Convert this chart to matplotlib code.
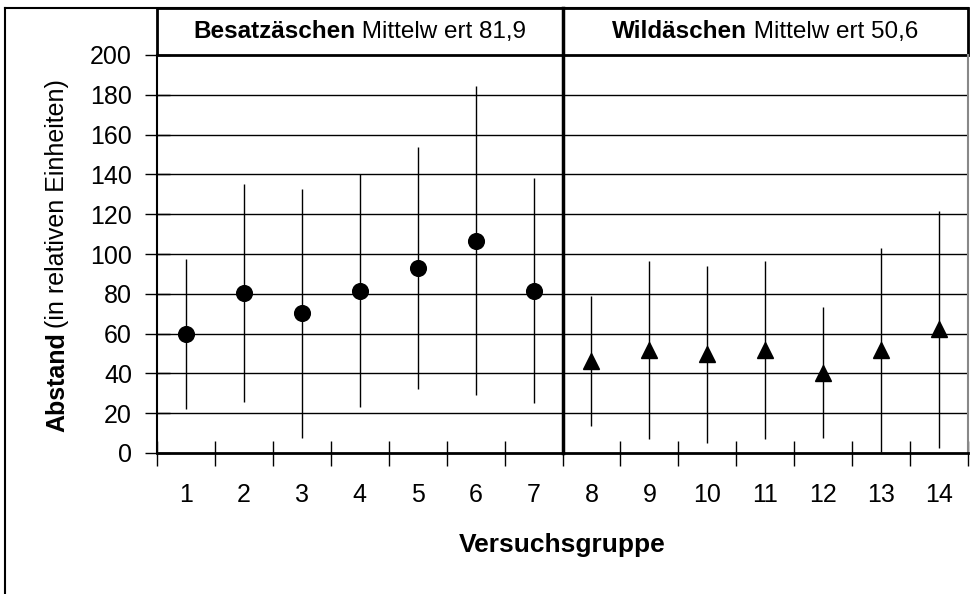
#
# Abstand je Versuchsgruppe: Besatzaeschen (1-7) vs. Wildaeschen (8-14), Mittelwert +/- SD
#

import numpy as np
import matplotlib
matplotlib.use('Agg')
from matplotlib import pyplot as plt
from matplotlib.offsetbox import TextArea, HPacker, AnnotationBbox
from matplotlib.patches import Rectangle
from matplotlib.lines import Line2D

# Data
besatz_gruppe = [1, 2, 3, 4, 5, 6, 7]
besatz_mittel = [60.0, 80.4, 70.2, 81.6, 93.0, 106.7, 81.6]
besatz_sd = [37.7, 54.8, 62.5, 58.4, 60.8, 77.8, 56.4]

wild_gruppe = [8, 9, 10, 11, 12, 13, 14]
wild_mittel = [46.2, 51.8, 49.6, 51.8, 40.4, 51.8, 62.1]
wild_sd = [32.7, 44.6, 44.6, 44.6, 33.0, 51.4, 59.5]

besatz_titel = 'Besatzäschen'
besatz_text = ' Mittelw ert 81,9'
wild_titel = 'Wildäschen'
wild_text = ' Mittelw ert 50,6'

yticks = [0, 20, 40, 60, 80, 100, 120, 140, 160, 180, 200]

plt.rcParams['font.family'] = ['Liberation Sans', 'DejaVu Sans']

fig = plt.figure(figsize=(9.79, 5.94), dpi=100)
ax = fig.add_axes([157/979, 1-453/594, 811/979, 398/594])

# grid lines (not at 0 or 200)
for yv in yticks[1:-1]:
    ax.axhline(yv, color='black', lw=1.0, zorder=1)

ax.errorbar(besatz_gruppe, besatz_mittel, yerr=besatz_sd, fmt='o', color='black',
            ms=11.3, elinewidth=1.0, capsize=0, zorder=3)
ax.errorbar(wild_gruppe, wild_mittel, yerr=wild_sd, fmt='^', color='black',
            ms=12, elinewidth=1.0, capsize=0, zorder=3)

ax.set_xlim(0.5, 14.5)
ax.set_ylim(0, 200)

# category labels in the middle, tick marks on the boundaries
alle = besatz_gruppe + wild_gruppe
ax.set_xticks(alle)
ax.set_xticklabels([str(g) for g in alle], fontsize=18)
ax.tick_params(axis='x', which='major', length=0, pad=21.5)
ax.set_xticks(np.arange(0.5, 15.0, 1.0), minor=True)
ax.tick_params(axis='x', which='minor', direction='inout', length=18, width=1.0, color='black')

ax.set_yticks(yticks)
ax.set_yticklabels([str(v) for v in yticks], fontsize=18)
ax.tick_params(axis='y', direction='inout', length=18, width=1.0, pad=9)

ax.spines['top'].set_visible(False)
ax.spines['right'].set_color('#888888')
ax.spines['right'].set_linewidth(1.5)
ax.spines['bottom'].set_linewidth(2.0)
ax.spines['left'].set_linewidth(1.5)

# divider between the two groups, runs through the header too
ax.plot([7.5, 7.5], [0, 1.118*200], color='black', lw=2.5, clip_on=False, zorder=4)

# header boxes
for x0 in [0.0, 0.5006]:
    r = Rectangle((x0, 1.0), 0.5, 0.118, transform=ax.transAxes, fill=False,
                  edgecolor='black', lw=2.0, clip_on=False)
    ax.add_patch(r)

def header(xc, titel, text):
    t1 = TextArea(titel, textprops=dict(fontweight='bold', fontsize=17.5))
    t2 = TextArea(text, textprops=dict(fontsize=17.5))
    box = HPacker(children=[t1, t2], align='baseline', pad=0, sep=0)
    ab = AnnotationBbox(box, (xc, 1.059), xycoords=ax.transAxes, frameon=False,
                        box_alignment=(0.5, 0.5), annotation_clip=False)
    ax.add_artist(ab)

header(0.25, besatz_titel, besatz_text)
header(0.75, wild_titel, wild_text)

# y label: bold part plus normal part
t1 = fig.text(57/979, 1-432/594, 'Abstand', rotation=90, fontsize=18, fontweight='bold',
              ha='center', va='bottom')
ax.annotate('(in relativen Einheiten)', xy=(0.5, 1), xycoords=t1, xytext=(0, 3),
            textcoords='offset points', rotation=90, fontsize=18, ha='center', va='bottom')

ax.set_xlabel('Versuchsgruppe', fontsize=19, fontweight='bold', labelpad=19)

# outer frame (left and top edge only)
fig.add_artist(Line2D([5/979, 5/979], [0, 1-8/594], transform=fig.transFigure, color='black', lw=1.5))
fig.add_artist(Line2D([5/979, 968/979], [1-8/594, 1-8/594], transform=fig.transFigure, color='black', lw=1.5))

plt.savefig('out.png', dpi=100)
